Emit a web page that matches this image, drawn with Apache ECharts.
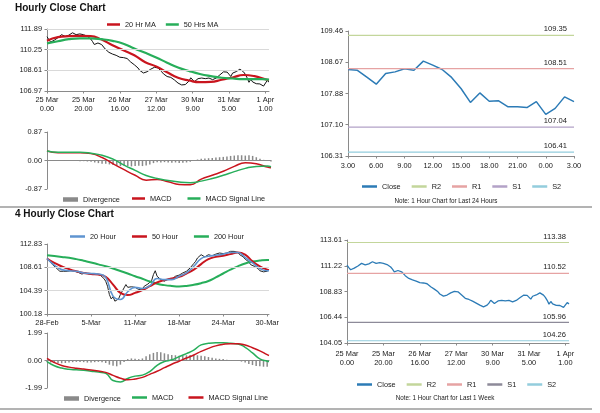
<!DOCTYPE html>
<html><head><meta charset="utf-8">
<script src="https://cdn.jsdelivr.net/npm/echarts@6/dist/echarts.min.js"></script>
<style>html,body{margin:0;padding:0;background:#fff}#c{width:600px;height:413px}</style>
</head><body><div id="c"></div>
<script>
// ---------- Hourly (25 Mar 0:00 .. 1 Apr 3:00) ----------
const hourLabels = ['25 Mar\n0.00','25 Mar\n20.00','26 Mar\n16.00','27 Mar\n12.00','30 Mar\n9.00','31 Mar\n5.00','1 Apr\n1.00'];
const hourlyTicks = [106.97, 108.61, 110.25, 111.89];
const hourlyClose = [
 111.28,111.05,110.85,110.90,111.00,111.07,111.20,111.35,111.44,111.38,
 111.30,111.28,111.40,111.52,111.59,111.55,111.44,111.42,111.50,111.47,
 111.44,111.40,111.33,111.28,111.10,110.90,110.66,110.72,110.78,110.72,
 110.66,110.60,110.30,110.15,110.04,110.10,109.90,109.85,109.80,109.73,
 109.65,109.58,109.62,109.66,109.55,109.40,109.27,109.15,109.05,108.96,
 108.80,108.60,108.49,108.40,108.33,108.50,108.58,108.70,108.80,108.85,
 108.82,108.80,108.70,108.50,108.33,108.20,108.12,108.09,108.05,107.93,
 107.85,107.75,107.60,107.56,107.45,107.40,107.48,107.56,107.75,108.02,
 107.90,107.71,107.85,107.95,108.09,108.00,107.87,107.95,108.02,108.00,
 107.95,107.87,107.90,108.00,108.09,108.25,108.40,108.49,
 108.49,108.47,108.30,108.12,108.39,108.43,108.51,108.47,108.70,108.60,
 108.49,108.29,108.01,107.66,107.90,107.69,107.70,107.55,107.55,107.53,
 107.68,107.36,107.51,107.80,107.68];
// sampled every 6 hours (last value = final hour)
const ma20Hr = [110.96,111.25,111.32,111.34,111.33,111.05,110.60,110.20,109.80,109.25,108.92,108.45,108.02,107.80,107.67,107.69,107.86,108.04,108.24,108.15,107.90,107.84];
const ma50Hr = [110.75,110.92,111.08,111.15,111.15,111.08,110.95,110.72,110.34,110.00,109.63,109.22,108.84,108.56,108.32,108.15,108.02,107.96,107.92,107.92,107.90,107.88];
const macdHr = [0.29,0.24,0.24,0.24,0.21,0.09,-0.10,-0.28,-0.45,-0.60,-0.58,-0.65,-0.73,-0.74,-0.57,-0.45,-0.33,-0.18,-0.07,-0.10,-0.20,-0.22];
const signalHr = [0.29,0.25,0.25,0.25,0.22,0.16,0.04,-0.14,-0.30,-0.46,-0.55,-0.61,-0.66,-0.68,-0.63,-0.55,-0.45,-0.34,-0.24,-0.18,-0.17,-0.19];
// sampled every 2 hours
const divergenceHr = [
 0.00,0.00,-0.01,0.00,0.00,-0.01,0.00,0.00,-0.01,-0.02,
 -0.02,-0.03,-0.04,-0.06,-0.08,-0.10,-0.10,-0.12,-0.14,-0.16,
 -0.17,-0.16,-0.17,-0.18,-0.17,-0.16,-0.17,-0.15,-0.12,-0.08,
 -0.05,-0.06,-0.05,-0.06,-0.07,-0.06,-0.08,-0.07,-0.06,-0.04,
 -0.01,0.03,0.05,0.06,0.07,0.08,0.09,0.10,0.11,0.12,
 0.14,0.15,0.16,0.16,0.15,0.16,0.14,0.10,0.05,0.02,
 -0.01,-0.03];
const macdHrLimit = 0.87;

// ---------- Last 24 hours ----------
const last24Labels = ['3.00','6.00','9.00','12.00','15.00','18.00','21.00','0.00','3.00'];
const last24Ticks = [106.31, 107.10, 107.88, 108.67, 109.46];
const levelNames = ['R2','R1','S1','S2'];
const levels24 = [109.35, 108.51, 107.04, 106.41];

// ---------- 4 hourly ----------
const fourHourLabels = ['28-Feb','5-Mar','11-Mar','18-Mar','24-Mar','30-Mar'];
const fourHourTicks = [100.18, 104.39, 108.61, 112.83];
const fourHourClose = [
 110.3,109.9,109.5,109.1,108.8,108.5,108.2,107.9,108.1,107.9,
 108.0,107.9,108.2,108.0,107.8,107.9,107.9,107.7,107.6,107.4,
 107.5,107.6,107.5,107.4,107.5,107.4,107.6,107.4,107.3,107.2,
 107.0,106.6,106.1,105.2,103.7,102.9,103.3,102.5,102.3,102.9,
 103.7,104.3,104.9,105.5,105.0,105.2,105.1,105.3,105.0,105.0,
 104.6,104.3,104.7,105.2,105.3,105.6,105.5,106.2,107.3,108.0,
 107.0,106.7,106.4,106.2,106.1,106.3,106.5,106.7,106.5,106.8,
 107.0,107.0,107.2,107.4,107.6,107.5,107.9,108.2,108.5,108.8,
 109.3,109.7,110.3,110.6,110.9,110.7,110.5,110.7,110.9,110.6,
 110.7,110.8,111.0,111.1,111.2,110.9,111.1,111.3,111.2,111.4,
 111.5,111.4,111.5,111.5,111.3,110.9,110.9,110.5,110.1,110.0,
 109.6,109.1,109.0,108.8,108.8,108.4,108.0,107.9,107.8,107.9,
 107.9,108.2];
// sampled every 4 bars (last value = final bar)
const ma20Hour = [110.2,109.0,108.2,108.0,107.9,107.6,107.5,107.4,106.8,103.4,102.8,104.2,105.0,104.8,105.3,106.6,106.4,106.4,107.0,107.6,108.8,110.2,110.6,110.8,111.0,111.3,111.3,110.4,109.4,108.4,108.0,108.0];
const ma50Hour = [110.2,109.4,108.8,108.3,107.9,107.6,107.4,107.3,106.9,105.5,104.0,103.6,104.0,104.5,105.2,105.9,106.3,106.6,106.9,107.5,108.2,109.2,110.1,110.5,110.7,111.0,111.3,110.9,109.7,108.8,108.2,108.1];
const ma200Hour = [110.8,110.65,110.5,110.35,110.1,109.8,109.5,109.15,108.8,108.4,107.95,107.5,107.0,106.55,106.05,105.65,105.4,105.25,105.17,105.25,105.45,105.75,106.15,106.8,107.5,108.2,108.8,109.3,109.65,109.85,109.95,109.95];
const macd4h = [-0.08,-0.38,-0.55,-0.64,-0.67,-0.70,-0.77,-0.84,-0.92,-1.45,-1.55,-1.30,-1.13,-1.06,-0.80,-0.35,-0.08,0.05,0.28,0.50,0.75,1.13,1.24,1.28,1.28,1.24,1.20,0.95,0.55,0.12,-0.06,-0.08];
const signal4h = [0.15,-0.15,-0.36,-0.48,-0.56,-0.62,-0.68,-0.76,-0.86,-1.08,-1.28,-1.40,-1.34,-1.22,-1.00,-0.78,-0.52,-0.27,-0.05,0.18,0.40,0.66,0.88,1.06,1.17,1.22,1.22,1.12,0.92,0.70,0.42,0.36];
// sampled every 2 bars
const divergence4h = [
 -0.10,-0.15,-0.18,-0.20,-0.20,-0.18,-0.15,-0.12,-0.10,-0.10,
 -0.12,-0.15,-0.15,-0.12,-0.10,-0.12,-0.18,-0.30,-0.38,-0.42,
 -0.30,-0.10,0.10,0.15,0.12,0.10,0.15,0.30,0.45,0.55,
 0.62,0.60,0.52,0.45,0.40,0.38,0.35,0.35,0.38,0.40,
 0.40,0.38,0.35,0.30,0.25,0.20,0.15,0.12,0.10,0.06,
 0.03,0.00,-0.02,-0.08,-0.15,-0.25,-0.33,-0.40,-0.42,-0.45,
 -0.45];
const macd4hLimit = 1.99;

// ---------- Last week (hourly) ----------
const weekTicks = [104.05, 106.44, 108.83, 111.22, 113.61];
const levelsWeek = [113.38, 110.52, 105.96, 104.26];

// ================= build =================
const FONT = '"Liberation Sans", Arial, sans-serif';
const TXT = '#1a1a1a';
const AX = '#8a8a8a';
const RED = '#c9151e', GREEN = '#27ae5a', BLUE = '#2c7bb6', LBLUE = '#5f94d0', GREY = '#8a8a8a';
const levelColorsTop = ['#c3d69b', '#e6a3a3', '#b3a2c7', '#93cddd'];
const levelColorsWeek = ['#c3d69b', '#e6a3a3', '#8d8a99', '#93cddd'];

const nH = hourlyClose.length, n4 = fourHourClose.length;
const last24Close = hourlyClose.slice(-25);
const ZW = '\u200b';

function spread(vals, step, total) {
  const out = new Array(total).fill(null);
  vals.forEach((v, i) => { out[Math.min(i * step, total - 1)] = v; });
  return out;
}
function idx(n) { return Array.from({length: n}, (_, i) => String(i)); }
const lab = {fontFamily: FONT, fontSize: 7.4, color: TXT};

function xCat(g, n, labels, step, margin) {
  const show = !!labels;
  return {
    type: 'category', gridIndex: g, data: idx(n), boundaryGap: false,
    axisLine: {show: true, onZero: !show, lineStyle: {color: AX, width: 1}},
    axisTick: {show: show, interval: step - 1, length: 2.5, lineStyle: {color: AX}},
    axisLabel: show ? Object.assign({show: true, interval: step - 1, margin: margin, lineHeight: 9.5,
      formatter: (v, i) => labels[Math.round(i / step)] || ''}, lab) : {show: false},
    splitLine: {show: false}
  };
}
function yPrice(g, ticks) {
  return {
    type: 'value', gridIndex: g, min: ticks[0], max: ticks[ticks.length - 1], scale: true,
    axisLine: {show: true, lineStyle: {color: AX}},
    axisTick: {show: true, length: 2.5, customValues: ticks, lineStyle: {color: AX}},
    axisLabel: Object.assign({customValues: ticks, margin: 5, formatter: v => v.toFixed(2)}, lab),
    splitLine: {show: false}
  };
}
function yMacd(g, m) {
  return {
    type: 'value', gridIndex: g, min: -m, max: m, interval: m,
    axisLine: {show: true, lineStyle: {color: AX}},
    axisTick: {show: true, length: 2.5, lineStyle: {color: AX}},
    axisLabel: Object.assign({margin: 5, formatter: v => v.toFixed(2)}, lab),
    splitLine: {show: false}
  };
}
function line(name, g, data, color, width, extra) {
  return Object.assign({name, type: 'line', xAxisIndex: g, yAxisIndex: g, data, symbol: 'none', connectNulls: true,
    lineStyle: {color, width}, itemStyle: {color}, silent: true}, extra || {});
}
function gridLines(g, values) {
  // horizontal gridlines at the tick values, drawn through the axis scale
  return {name: 'grid' + g, type: 'line', xAxisIndex: g, yAxisIndex: g, data: [], silent: true, z: 0,
    markLine: {silent: true, symbol: 'none', label: {show: false}, lineStyle: {color: '#d9d9d9', width: 1, type: 'solid'},
      data: values.map(t => ({yAxis: t}))}};
}
function levelSeries(name, value, color, g, n, off) {
  return {name, type: 'line', xAxisIndex: g, yAxisIndex: g, silent: true,
    data: Array.from({length: n}, (_, i) => i === n - 1 ? {value, label: {show: true}} : value),
    symbol: 'circle', symbolSize: 0, showSymbol: true, showAllSymbol: true,
    lineStyle: {color, width: 1.2}, itemStyle: {color},
    label: {show: false, position: 'top', distance: 2, align: 'right', offset: [off, 0],
      formatter: p => Number(p.value).toFixed(2), fontFamily: FONT, fontSize: 7.6, color: TXT}};
}
function legend(left, top, names, extra) {
  return Object.assign({left, top, data: names, icon: 'rect', itemWidth: 14, itemHeight: 2.5, itemGap: 11,
    padding: 0, selectedMode: false, formatter: nm => nm.replace(/\u200b/g, ''),
    textStyle: {fontFamily: FONT, fontSize: 7.3, color: TXT}}, extra || {});
}

const series = [
  // grid 0
  gridLines(0, hourlyTicks.slice(1)),
  line('Hourly Close', 0, hourlyClose, '#111', 1),
  line('20 Hr MA', 0, spread(ma20Hr, 6, nH), RED, 2.2, {smooth: true}),
  line('50 Hrs MA', 0, spread(ma50Hr, 6, nH), GREEN, 2.2, {smooth: true}),
  // grid 1
  {name: 'Divergence', type: 'bar', xAxisIndex: 1, yAxisIndex: 1, data: spread(divergenceHr, 2, nH), barWidth: 1.5, itemStyle: {color: GREY}, silent: true},
  line('MACD', 1, spread(macdHr, 6, nH), RED, 1.5, {smooth: true}),
  line('MACD Signal Line', 1, spread(signalHr, 6, nH), GREEN, 1.5, {smooth: true}),
  // grid 2
  line('Close', 2, last24Close, BLUE, 1.5),
  ...levelNames.map((nm, i) => levelSeries(nm, levels24[i], levelColorsTop[i], 2, last24Close.length, -7)),
  // grid 3
  gridLines(3, fourHourTicks.slice(1, -1)),
  line('4H Close', 3, fourHourClose, '#222', 1),
  line('200 Hour', 3, spread(ma200Hour, 4, n4), GREEN, 2, {smooth: true}),
  line('50 Hour', 3, spread(ma50Hour, 4, n4), RED, 2, {smooth: true}),
  line('20 Hour', 3, spread(ma20Hour, 4, n4), LBLUE, 1.6, {smooth: true}),
  // grid 4
  {name: 'Divergence' + ZW, type: 'bar', xAxisIndex: 4, yAxisIndex: 4, data: spread(divergence4h, 2, n4), barWidth: 1.5, itemStyle: {color: GREY}, silent: true},
  line('MACD' + ZW, 4, spread(macd4h, 4, n4), GREEN, 1.5, {smooth: true}),
  line('MACD Signal Line' + ZW, 4, spread(signal4h, 4, n4), RED, 1.5, {smooth: true}),
  // grid 5
  line('Close' + ZW, 5, hourlyClose, BLUE, 1.3),
  ...levelNames.map((nm, i) => levelSeries(nm + ZW, levelsWeek[i], levelColorsWeek[i], 5, nH, -3))
];

const option = {
  animation: false,
  backgroundColor: '#fff',
  textStyle: {fontFamily: FONT},
  title: [
    {text: 'Hourly Close Chart', left: 15, top: 3, padding: 0, textStyle: {fontFamily: FONT, fontSize: 10, fontWeight: 'bold', color: '#111'}},
    {text: '4 Hourly Close Chart', left: 15, top: 209, padding: 0, textStyle: {fontFamily: FONT, fontSize: 10, fontWeight: 'bold', color: '#111'}}
  ],
  grid: [
    {left: 47, top: 29, width: 222, height: 62},
    {left: 47, top: 132, width: 224, height: 57},
    {left: 348, top: 31, width: 226, height: 125},
    {left: 47, top: 244, width: 222, height: 70},
    {left: 47, top: 333, width: 222, height: 55},
    {left: 347, top: 240, width: 222, height: 103}
  ],
  xAxis: [
    xCat(0, nH, hourLabels, 20, 4),
    xCat(1, nH, null, 20),
    xCat(2, last24Close.length, last24Labels, 3, 5),
    xCat(3, n4, fourHourLabels, 24, 4),
    xCat(4, n4, null, 24),
    xCat(5, nH, hourLabels, 20, 6)
  ],
  yAxis: [
    yPrice(0, hourlyTicks),
    yMacd(1, macdHrLimit),
    yPrice(2, last24Ticks),
    yPrice(3, fourHourTicks),
    yMacd(4, macd4hLimit),
    yPrice(5, weekTicks)
  ],
  legend: [
    legend(107, 21, ['20 Hr MA', '50 Hrs MA'], {itemWidth: 13, itemGap: 10}),
    legend(63, 196, ['Divergence'], {itemWidth: 15, itemHeight: 4.5}),
    legend(132, 195, ['MACD', 'MACD Signal Line'], {itemWidth: 13, itemGap: 16}),
    legend(362, 183, ['Close', 'R2', 'R1', 'S1', 'S2'], {itemWidth: 15, itemGap: 11}),
    legend(70, 233, ['20 Hour', '50 Hour', '200 Hour'], {itemWidth: 15, itemGap: 16}),
    legend(64, 395, ['Divergence' + ZW], {itemWidth: 15, itemHeight: 4.5}),
    legend(132, 394, ['MACD' + ZW, 'MACD Signal Line' + ZW], {itemWidth: 15, itemGap: 15}),
    legend(357, 381, ['Close' + ZW, 'R2' + ZW, 'R1' + ZW, 'S1' + ZW, 'S2' + ZW], {itemWidth: 15, itemGap: 11})
  ],
  graphic: [
    {type: 'line', shape: {x1: 0, y1: 207, x2: 592, y2: 207}, style: {stroke: '#9a9a9a', lineWidth: 1.5}, silent: true},
    {type: 'line', shape: {x1: 0, y1: 409, x2: 592, y2: 409}, style: {stroke: '#9a9a9a', lineWidth: 1.5}, silent: true},
    {type: 'text', x: 446, y: 201, silent: true, style: {text: 'Note: 1 Hour Chart for Last 24 Hours', align: 'center', verticalAlign: 'middle', fill: TXT, font: '6.3px "Liberation Sans", Arial, sans-serif'}},
    {type: 'text', x: 445, y: 398, silent: true, style: {text: 'Note: 1 Hour Chart for Last 1 Week', align: 'center', verticalAlign: 'middle', fill: TXT, font: '6.3px "Liberation Sans", Arial, sans-serif'}}
  ],
  series
};
const chart = echarts.init(document.getElementById('c'));
chart.setOption(option);
</script></body></html>
